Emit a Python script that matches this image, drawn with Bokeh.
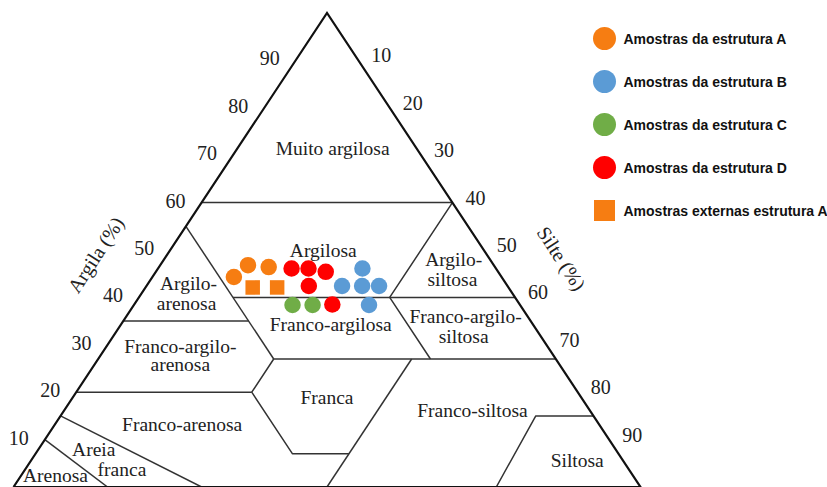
from bokeh.plotting import figure
from bokeh.models import Range1d
from bokeh.core.properties import value
from bokeh.embed import file_html
from bokeh.resources import INLINE

# ---------------- data ----------------
tick_values = [10, 20, 30, 40, 50, 60, 70, 80, 90]

# Samples: clay (Argila %) and silt (Silte %); sand = 100 - clay - silt
argila_A = [44.3, 46.8, 46.4]
silte_A = [13.0, 14.0, 17.5]
argila_B = [46.1, 42.4, 42.4, 42.4, 38.4]
silte_B = [32.6, 31.2, 34.4, 37.1, 37.5]
argila_C = [38.4, 38.4]
silte_C = [25.3, 28.5]
argila_D = [46.1, 46.1, 45.4, 42.4, 38.5]
silte_D = [21.3, 24.0, 27.1, 25.9, 31.6]
argila_ext = [42.1, 42.1]
silte_ext = [17.1, 21.0]

legend_labels = ["Amostras da estrutura A", "Amostras da estrutura B",
                 "Amostras da estrutura C", "Amostras da estrutura D",
                 "Amostras externas estrutura A"]
legend_colors = ["#F67D12", "#5B9BD5", "#70AD47", "#FF0000", "#F67D12"]
legend_markers = ["circle", "circle", "circle", "circle", "square"]

# Texture class boundaries as (clay, silt) vertices
boundaries = [
    [(60, 0), (60, 40)],
    [(55, 0), (27, 28)],
    [(35, 0), (35, 20)],
    [(40, 15), (40, 60)],
    [(60, 40), (40, 40), (27, 53)],
    [(27, 28), (27, 73)],
    [(20, 0), (20, 28)],
    [(27, 28), (20, 28), (7, 41), (7, 50)],
    [(27, 50), (0, 50)],
    [(15, 0), (0, 30)],
    [(10, 0), (0, 15)],
    [(0, 77), (15, 75.8), (15, 85)],
]
outer = [(0, 0), (100, 0), (0, 100), (0, 0)]

# Class names with label anchor (X along base, clay)
region_names = ["Muito argilosa", "Argilosa", "Argilo-", "arenosa", "Argilo-", "siltosa",
                "Franco-argilosa", "Franco-argilo-", "siltosa", "Franco-argilo-", "arenosa",
                "Franca", "Franco-arenosa", "Franco-siltosa", "Siltosa", "Areia", "franca",
                "Arenosa"]
region_pos = [(50.9, 71.5), (49.4, 50.0), (27.9, 43.0), (27.6, 38.8), (70.2, 47.9), (70.0, 43.7),
              (50.6, 34.2), (72.1, 36.0), (71.8, 31.8), (26.6, 29.7), (26.6, 25.8),
              (50.0, 18.8), (26.9, 13.2), (73.2, 16.1), (89.9, 5.5), (12.8, 7.9), (17.3, 3.7),
              (6.7, 2.4)]

# ---------------- layout helpers ----------------
W, H = 827, 487
X0_PX, SX = 13.0, 6.27      # canvas px of X=0 and px per unit
Y0_PX, SY = 486.5, 4.74     # canvas px (from top) of clay=0 and px per unit


def tx(clay, silt):
    return silt + clay / 2.0


def px_to_x(px):
    return (px - X0_PX) / SX


def px_to_y(py):
    return (Y0_PX - py) / SY


p = figure(width=W, height=H, output_backend="svg", toolbar_location=None,
           x_range=Range1d(px_to_x(0), px_to_x(W)), y_range=Range1d(px_to_y(H), px_to_y(0)),
           min_border=0, outline_line_color=None)
p.axis.visible = False
p.grid.visible = False
p.background_fill_color = "white"

serif = value("Liberation Serif")

# boundaries
p.multi_line(xs=[[tx(c, s) for c, s in b] for b in boundaries],
             ys=[[c for c, s in b] for b in boundaries],
             line_color="#333333", line_width=1.5)
p.line(x=[tx(c, s) for c, s in outer], y=[c for c, s in outer],
       line_color="#111111", line_width=2.2, line_join="miter")

# tick labels
p.text(x=[tx(v, 0) for v in tick_values], y=tick_values, text=[str(v) for v in tick_values],
       x_offset=-26, y_offset=-2, text_align="center", text_baseline="middle",
       text_font=serif, text_font_size="20px", text_color="#222222")
p.text(x=[tx(100 - v, v) for v in tick_values], y=[100 - v for v in tick_values],
       text=[str(v) for v in tick_values],
       x_offset=23, y_offset=-5, text_align="center", text_baseline="middle",
       text_font=serif, text_font_size="20px", text_color="#222222")

# axis titles
p.text(x=[13.1], y=[49.0], text=["Argila (%)"], angle=0.995, text_align="center",
       text_baseline="middle", text_font=serif, text_font_size="20px", text_color="#222222")
p.text(x=[87.4], y=[48.2], text=["Silte (%)"], angle=-0.995, text_align="center",
       text_baseline="middle", text_font=serif, text_font_size="20px", text_color="#222222")

# region labels
p.text(x=[a for a, b in region_pos], y=[b for a, b in region_pos], text=region_names,
       text_align="center", text_baseline="middle", text_font=serif,
       text_font_size="19.5px", text_color="#222222")

# samples
groups = [(argila_A, silte_A, 0), (argila_B, silte_B, 1), (argila_C, silte_C, 2),
          (argila_D, silte_D, 3), (argila_ext, silte_ext, 4)]
for clay, silt, i in groups:
    p.scatter(x=[tx(c, s) for c, s in zip(clay, silt)], y=clay, marker=legend_markers[i],
              size=16.5 if legend_markers[i] == "circle" else 14.5,
              fill_color=legend_colors[i], line_color=None)

# legend (drawn manually to match marker size)
leg_top_px, leg_step_px = 38, 43
leg_y = [px_to_y(leg_top_px + i * leg_step_px) for i in range(len(legend_labels))]
for i in range(len(legend_labels)):
    p.scatter(x=[px_to_x(604)], y=[leg_y[i]], marker=legend_markers[i],
              size=23 if legend_markers[i] == "circle" else 21,
              fill_color=legend_colors[i], line_color=None)
p.text(x=[px_to_x(623)] * len(legend_labels), y=leg_y, text=legend_labels,
       text_align="left", text_baseline="middle", text_font=value("Liberation Sans"),
       text_font_style="bold", text_font_size="14px", text_color="#111111")

open("out.html", "w").write(file_html(p, INLINE))
